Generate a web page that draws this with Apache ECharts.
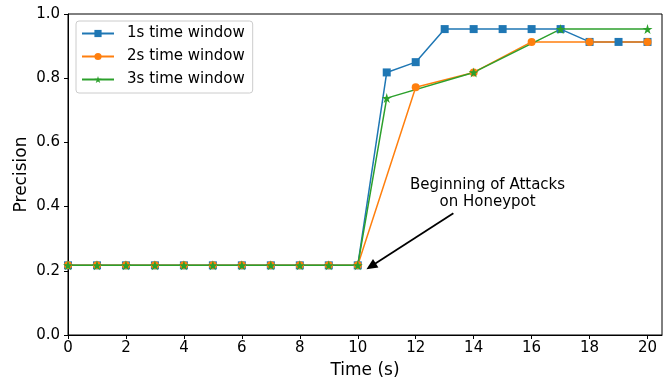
<!DOCTYPE html>
<html>
<head>
<meta charset="utf-8">
<script src="https://cdn.jsdelivr.net/npm/echarts@6/dist/echarts.min.js"></script>
<style>
html,body{margin:0;padding:0;background:#fff;}
#chart{width:667px;height:384px;}
</style>
</head>
<body>
<div id="chart"></div>
<script>
// Data
const x1 = [0,1,2,3,4,5,6,7,8,9,10,11,12,13,14,15,16,17,18,19,20];
const y1 = [0.217,0.217,0.217,0.217,0.217,0.217,0.217,0.217,0.217,0.217,0.217,0.818,0.85,0.953,0.953,0.953,0.953,0.953,0.913,0.913,0.913];
const x2 = [0,1,2,3,4,5,6,7,8,9,10,12,14,16,18,20];
const y2 = [0.217,0.217,0.217,0.217,0.217,0.217,0.217,0.217,0.217,0.217,0.217,0.772,0.818,0.913,0.913,0.913];
const x3 = [0,1,2,3,4,5,6,7,8,9,10,11,14,17,20];
const y3 = [0.217,0.217,0.217,0.217,0.217,0.217,0.217,0.217,0.217,0.217,0.217,0.738,0.818,0.953,0.953];
const seriesNames = ['1s time window','2s time window','3s time window'];
const xTicks = [0,2,4,6,8,10,12,14,16,18,20];
const yTicks = [0,0.2,0.4,0.6,0.8,1.0];
const annotationText = 'Beginning of Attacks\non Honeypot';
const annotationTextPos = [14.48, 0.441];
const arrowFrom = [13.3, 0.379];
const arrowTo = [10.46, 0.214];

const colors = ['#1f77b4','#ff7f0e','#2ca02c'];
const font = 'DejaVu Sans';
const starPath = 'path://M50,0 L61.2,34.5 L97.6,34.5 L68.2,55.9 L79.4,90.5 L50,69.1 L20.6,90.5 L31.8,55.9 L2.4,34.5 L38.8,34.5 Z';

function pairs(xs, ys){ return xs.map((v,i)=>[v, ys[i]]); }

const chart = echarts.init(document.getElementById('chart'), null, {renderer:'canvas'});
const option = {
  animation:false,
  color: colors,
  textStyle:{fontFamily:font},
  grid:{left:68, right:5, top:14, bottom:48, show:true, borderColor:'#000', borderWidth:1, backgroundColor:'transparent'},
  legend:{
    orient:'vertical', left:76, top:21,
    data:seriesNames,
    itemWidth:32, itemHeight:9, itemGap:8,
    padding:[5,8,6,5],
    borderColor:'#cccccc', borderWidth:1, borderRadius:3,
    backgroundColor:'rgba(255,255,255,0.8)',
    textStyle:{fontFamily:font, fontSize:15, color:'#000', padding:[0,0,0,8]}
  },
  xAxis:{
    type:'value', min:0, max:20.5, interval:2,
    name:'Time (s)', nameLocation:'middle', nameGap:27, nameMoveOverlap:false,
    nameTextStyle:{fontFamily:font, fontSize:17, color:'#000'},
    axisLine:{show:true, lineStyle:{color:'#000', width:1}},
    axisTick:{show:true, length:4, lineStyle:{color:'#000'}, customValues:xTicks},
    axisLabel:{color:'#000', fontSize:15, fontFamily:font, margin:6, customValues:xTicks},
    splitLine:{show:false}
  },
  yAxis:{
    type:'value', min:0, max:1, interval:0.2,
    name:'Precision', nameLocation:'middle', nameGap:38, nameRotate:90, nameMoveOverlap:false,
    nameTextStyle:{fontFamily:font, fontSize:17, color:'#000'},
    axisLine:{show:true, lineStyle:{color:'#000', width:1}},
    axisTick:{show:true, length:4, lineStyle:{color:'#000'}},
    axisLabel:{color:'#000', fontSize:15, fontFamily:font, margin:8, formatter:v=>v.toFixed(1)},
    splitLine:{show:false}
  },
  series:[
    {name:seriesNames[0], type:'line', data:pairs(x1,y1), symbol:'rect', symbolSize:8,
     lineStyle:{width:1.5}, itemStyle:{color:colors[0]}},
    {name:seriesNames[1], type:'line', data:pairs(x2,y2), symbol:'circle', symbolSize:8,
     lineStyle:{width:1.5}, itemStyle:{color:colors[1]}},
    {name:seriesNames[2], type:'line', data:pairs(x3,y3), symbol:starPath, symbolSize:10,
     lineStyle:{width:1.5}, itemStyle:{color:colors[2]}},
    {name:'annotation', type:'line', data:[], silent:true,
     markLine:{
       silent:true, symbol:['none','triangle'], symbolSize:[10,11],
       label:{show:false},
       lineStyle:{color:'#000', width:1.8, type:'solid'},
       data:[[{coord:arrowFrom},{coord:arrowTo}]]
     },
     markPoint:{
       silent:true, symbol:'circle', symbolSize:0,
       label:{show:true, position:'inside', formatter:annotationText, color:'#000',
              fontFamily:font, fontSize:15, lineHeight:17, align:'center', verticalAlign:'middle'},
       data:[{coord:annotationTextPos}]
     }}
  ]
};
chart.setOption(option);
</script>
</body>
</html>
